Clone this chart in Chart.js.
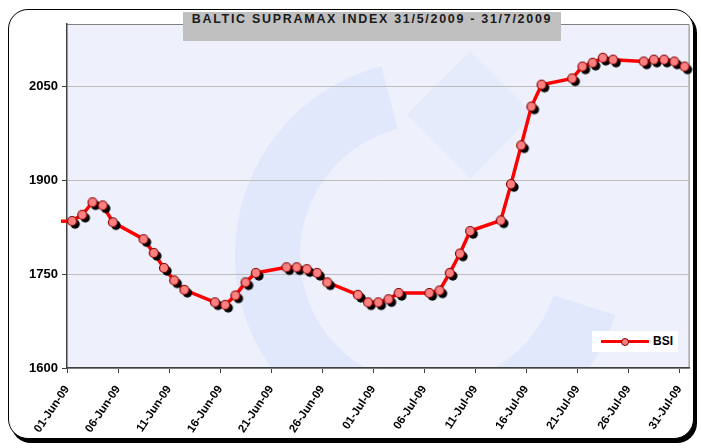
<!DOCTYPE html>
<html>
<head>
<meta charset="utf-8">
<script src="https://cdn.jsdelivr.net/npm/chart.js@4/dist/chart.umd.min.js"></script>
<style>
    body { margin: 0; width: 701px; height: 448px; position: relative; background: #fff; overflow: hidden; }
    #frame { position: absolute; left: 8px; top: 9px; width: 684px; height: 428px; border: 1.5px solid #000; border-radius: 20px; box-shadow: 3px 4px 0 #000; background: #fff; }
    #chart { position: absolute; left: 0; top: 0; }
    #title { position: absolute; left: 183px; top: 12px; width: 378px; height: 29px; background: #c0c0c0; text-align: center; line-height: 29px; font: bold 12.5px "Liberation Sans", Arial, sans-serif; letter-spacing: 1.7px; color: #1a1a1a; }
    #legend { position: absolute; left: 592px; top: 331px; width: 86px; height: 21px; background: #fff; font: bold 12px "Liberation Sans", Arial, sans-serif; }
    #legend .ln { position: absolute; left: 9px; top: 9px; width: 48px; height: 3px; background: #ff0000; }
    #legend .mk { position: absolute; left: 29px; top: 6.5px; width: 6px; height: 6px; border: 1px solid #800000; border-radius: 50%; background: #ff8080; }
    #legend .tx { position: absolute; left: 61px; top: 3px; }
</style>
</head>
<body>
<div id="frame"></div>
<canvas id="chart" width="701" height="448"></canvas>
<div id="title">BALTIC SUPRAMAX INDEX 31/5/2009 - 31/7/2009</div>
<div id="legend"><span class="ln"></span><span class="mk"></span><span class="tx">BSI</span></div>
<script>
// BSI daily values
const dates = [
    '2009-05-29',
    '2009-06-01', '2009-06-02', '2009-06-03', '2009-06-04', '2009-06-05',
    '2009-06-08', '2009-06-09', '2009-06-10', '2009-06-11', '2009-06-12',
    '2009-06-15', '2009-06-16', '2009-06-17', '2009-06-18', '2009-06-19',
    '2009-06-22', '2009-06-23', '2009-06-24', '2009-06-25', '2009-06-26',
    '2009-06-29', '2009-06-30', '2009-07-01', '2009-07-02', '2009-07-03',
    '2009-07-06', '2009-07-07', '2009-07-08', '2009-07-09', '2009-07-10',
    '2009-07-13', '2009-07-14', '2009-07-15', '2009-07-16', '2009-07-17',
    '2009-07-20', '2009-07-21', '2009-07-22', '2009-07-23', '2009-07-24',
    '2009-07-27', '2009-07-28', '2009-07-29', '2009-07-30', '2009-07-31'
];
const bsi = [
    1834,
    1835, 1845, 1865, 1860, 1833,
    1806, 1784, 1760, 1740, 1725,
    1705, 1701, 1716, 1737, 1752,
    1761, 1761, 1758, 1752, 1737,
    1717, 1705, 1705, 1710, 1720,
    1720, 1724, 1752, 1783, 1819,
    1836, 1894, 1956, 2018, 2053,
    2063, 2082, 2088, 2096, 2093,
    2090, 2093, 2093, 2090, 2082
];
const xTickLabels = ['01-Jun-09', '06-Jun-09', '11-Jun-09', '16-Jun-09', '21-Jun-09', '26-Jun-09',
    '01-Jul-09', '06-Jul-09', '11-Jul-09', '16-Jul-09', '21-Jul-09', '26-Jul-09', '31-Jul-09'];
const yTicks = [1600, 1750, 1900, 2050];

const DAY = 86400000;
const start = Date.UTC(2009, 5, 1);

// days since 1 June, point sits in the middle of its day
function dayPos(s) {
    const p = s.split('-').map(Number);
    return (Date.UTC(p[0], p[1] - 1, p[2]) - start) / DAY + 0.5;
}

const points = dates.map((d, i) => ({ x: dayPos(d), y: bsi[i] }));

// marker with its drop shadow baked in
function makeMarker() {
    const c = document.createElement('canvas');
    c.width = 24; c.height = 24;
    const g = c.getContext('2d');
    g.fillStyle = '#000';
    g.beginPath(); g.arc(15, 15, 4.7, 0, Math.PI * 2); g.fill();
    g.fillStyle = '#ff8080';
    g.strokeStyle = '#800000';
    g.lineWidth = 1.2;
    g.beginPath(); g.arc(12, 12, 4.5, 0, Math.PI * 2); g.fill(); g.stroke();
    return c;
}

const plotBack = {
    id: 'plotBack',
    beforeDraw(chart) {
        const a = chart.chartArea;
        const ctx = chart.ctx;
        ctx.save();
        ctx.fillStyle = '#eef0fc';
        ctx.fillRect(a.left, a.top, a.right - a.left, a.bottom - a.top);

        // faint logo watermark
        ctx.beginPath();
        ctx.rect(a.left, a.top, a.right - a.left, a.bottom - a.top);
        ctx.clip();
        ctx.fillStyle = '#e2e8fc';
        ctx.beginPath();
        ctx.arc(430, 255, 195, Math.PI * 1.42, Math.PI * 0.1, true);
        ctx.arc(430, 255, 130, Math.PI * 0.1, Math.PI * 1.42, false);
        ctx.closePath();
        ctx.fill();
        ctx.save();
        ctx.translate(470, 115);
        ctx.rotate(Math.PI / 4);
        ctx.fillStyle = '#e6ebfc';
        ctx.fillRect(-45, -45, 90, 90);
        ctx.restore();
        ctx.restore();

        ctx.save();
        ctx.strokeStyle = '#808080';
        ctx.lineWidth = 1;
        ctx.beginPath();
        ctx.moveTo(a.left, a.top + 0.5);
        ctx.lineTo(a.right - 0.5, a.top + 0.5);
        ctx.lineTo(a.right - 0.5, a.bottom);
        ctx.stroke();
        ctx.restore();
    }
};

const labelFont = { family: '"Liberation Sans", Arial, sans-serif', weight: 'bold' };

new Chart(document.getElementById('chart').getContext('2d'), {
    type: 'line',
    data: {
        datasets: [{
            label: 'BSI',
            data: points,
            borderColor: '#ff0000',
            borderWidth: 3.5,
            pointStyle: makeMarker(),
            pointRadius: 5,
            pointHoverRadius: 5,
            tension: 0,
            clip: { left: 6, top: 10, right: 10, bottom: 10 }
        }]
    },
    options: {
        responsive: false,
        animation: false,
        events: [],
        layout: { padding: { left: 0, top: 24, right: 9, bottom: 0 } },
        plugins: {
            legend: { display: false },
            tooltip: { enabled: false }
        },
        scales: {
            x: {
                type: 'linear',
                min: 0,
                max: 61,
                afterBuildTicks: axis => {
                    axis.ticks = xTickLabels.map((_, i) => ({ value: i * 5 }));
                },
                afterFit: s => { s.height = 80; },
                ticks: {
                    autoSkip: false,
                    minRotation: 56,
                    maxRotation: 56,
                    padding: 10,
                    color: '#000',
                    font: Object.assign({ size: 11.5 }, labelFont),
                    callback: v => xTickLabels[Math.round(v / 5)]
                },
                grid: { drawOnChartArea: false, drawTicks: true, tickLength: 5, tickColor: '#404040' },
                border: { color: '#404040', width: 1.5 }
            },
            y: {
                min: 1600,
                max: 2150,
                afterBuildTicks: axis => {
                    axis.ticks = yTicks.map(v => ({ value: v }));
                },
                afterFit: s => { s.width = 67; },
                ticks: {
                    padding: 4,
                    color: '#000',
                    font: Object.assign({ size: 13 }, labelFont),
                    callback: v => String(v)
                },
                grid: { color: '#bdbdbd', lineWidth: 1, tickLength: 5, tickColor: '#404040' },
                border: { color: '#404040', width: 1.5 }
            }
        }
    },
    plugins: [plotBack]
});
</script>
</body>
</html>
